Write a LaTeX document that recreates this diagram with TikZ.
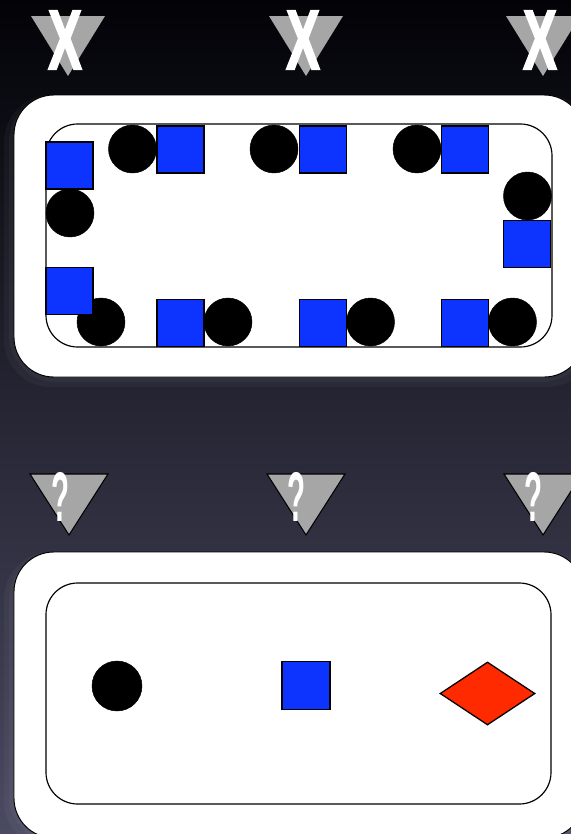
\documentclass[tikz,border=0pt]{standalone}
\usepackage{fontspec}
\setmainfont{Liberation Sans}
\newfontfamily\crossfont[FakeBold=2.5]{Liberation Sans Bold}
\usetikzlibrary{shapes.geometric,positioning}
\definecolor{slidetop}{HTML}{020207}
\definecolor{slidemid}{HTML}{20203C}
\definecolor{slidebot}{HTML}{4A4A62}
\definecolor{token}{HTML}{0D33FF}
\definecolor{marker}{HTML}{A6A6A6}
\definecolor{gemred}{HTML}{FF2A00}

\begin{document}
\begin{tikzpicture}[x=0.03cm,y=-0.03cm,
  outer/.style={draw=black,line width=0.8pt,fill=white,rounded corners=34pt},
  inner/.style={draw=black,line width=1pt,rounded corners=27pt},
  glow/.style={fill=white,opacity=0.035,rounded corners=40pt},
  dot/.style={circle,fill=black,draw=black,inner sep=0pt,minimum size=1.44cm},
  sq/.style={rectangle,fill=token,draw=black,line width=0.9pt,inner sep=0pt,
             minimum size=1.41cm},
  gem/.style={diamond,fill=gemred,draw=black,line width=1.1pt,inner sep=0pt,
              aspect=1.5,minimum width=2.85cm,minimum height=1.89cm},
  cross/.style={text=white,inner sep=0pt,
                font=\fontsize{72}{72}\selectfont\crossfont},
  query/.style={text=white,inner sep=0pt,
                font=\fontsize{60}{60}\selectfont\bfseries}
]
\useasboundingbox (0,0) rectangle (571,834);
\clip (0,0) rectangle (571,834);

% background
\shade[top color=slidetop,middle color=slidemid,bottom color=slidebot]
  (0,0) rectangle (571,834);

% top markers
\foreach \x in {68,306,543}{
  \fill[marker] (\x-37,16) -- (\x+37,16) -- (\x,76) -- cycle;
}
\node[cross] (x1) at (65,40) {\scalebox{0.6}[1]{X}};
\node[cross] (x2) at (303,40) {\scalebox{0.6}[1]{X}};
\node[cross] (x3) at (540,40) {\scalebox{0.6}[1]{X}};

% upper box
\foreach \g in {5,10}{
  \fill[glow] (14-\g,95) rectangle (584+\g,377+\g);
}
\draw[outer] (14,95) rectangle (584,377);
\draw[inner] (46,124) rectangle (552,347);

\node[dot] (d1) at (70,213) {};
\node[dot] (d2) at (132.5,149) {};
\node[dot] (d3) at (274,149) {};
\node[dot] (d4) at (417,149) {};
\node[dot] (d5) at (527.5,196) {};
\node[dot] (d6) at (101,322) {};
\node[dot] (d7) at (228,322) {};
\node[dot] (d8) at (370.5,322) {};
\node[dot] (d9) at (512.5,322) {};

\node[sq] (s1) at (69.5,165.5) {};
\node[sq] (s2) at (69.5,291) {};
\node[sq] (s3) at (180.5,149.5) {};
\node[sq] (s4) at (323,149.5) {};
\node[sq] (s5) at (465,149.5) {};
\node[sq] (s6) at (527,244) {};
\node[sq] (s7) at (180.5,323) {};
\node[sq] (s8) at (323,323) {};
\node[sq] (s9) at (465,323) {};

% lower markers
\foreach \x in {69,306,543}{
  \filldraw[fill=marker,draw=black,line width=0.9pt]
    (\x-39,474) -- (\x+39,474) -- (\x,535) -- cycle;
}
\node[query] (q1) at (61,497) {\scalebox{0.42}[1]{?}};
\node[query] (q2) at (297,497) {\scalebox{0.42}[1]{?}};
\node[query] (q3) at (534,497) {\scalebox{0.42}[1]{?}};

% lower box
\foreach \g in {5,10}{
  \fill[glow] (14-\g,552) rectangle (584+\g,838+\g);
}
\draw[outer] (14,552) rectangle (584,838);
\draw[inner] (46,583) rectangle (551,804);

\node[dot,minimum size=1.5cm] (pick1) at (117,686) {};
\node[sq,minimum size=1.44cm] (pick2) at (306,685.5) {};
\node[gem] (pick3) at (487.5,693.5) {};
\end{tikzpicture}
\end{document}
